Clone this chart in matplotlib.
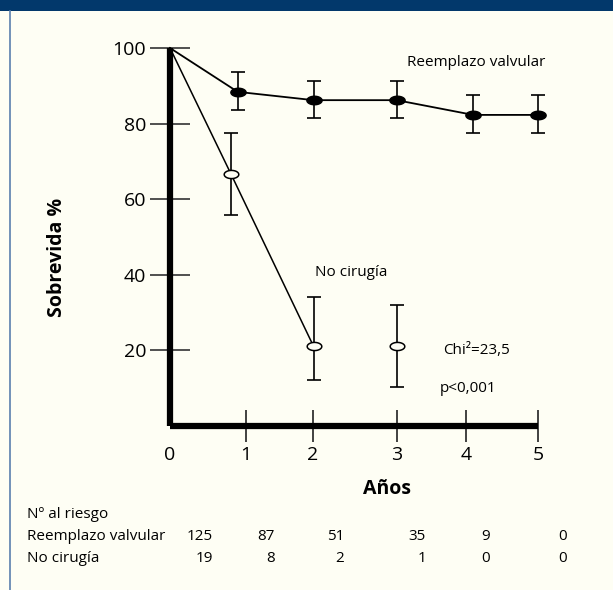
import numpy as np
import matplotlib
matplotlib.use("Agg")
import matplotlib.pyplot as plt
from matplotlib.path import Path
from matplotlib.patches import Rectangle
from matplotlib.lines import Line2D

# --- Datos ---
tick_years = [0, 1.03, 1.94, 3.08, 4.02, 5.0]   # posición de las marcas del eje X
tick_labels = ['0', '1', '2', '3', '4', '5']

# Reemplazo valvular (puntos llenos)
rv_x = [0, 0.92, 1.95, 3.08, 4.12, 5.0]
rv_y = [100, 88.4, 86.2, 86.2, 82.3, 82.3]
rv_lo = [100, 83.6, 81.4, 81.4, 77.5, 77.5]
rv_hi = [100, 93.7, 91.4, 91.4, 87.6, 87.6]

# No cirugía (puntos huecos)
nc_x = [0, 0.83, 1.95, 3.08]
nc_y = [100, 66.6, 21.1, 21.1]
nc_lo = [100, 55.9, 12.3, 10.3]
nc_hi = [100, 77.6, 34.0, 31.9]
nc_line_pts = 3   # la línea solo une los tres primeros puntos

riesgo_rv = ['125', '87', '51', '35', '9', '0']
riesgo_nc = ['19', '8', '2', '1', '0', '0']

BG = '#fefef4'
W, H = 613, 590

plt.rcParams['font.family'] = ['Open Sans', 'DejaVu Sans']

fig = plt.figure(figsize=(W / 100, H / 100), dpi=100, facecolor=BG)

# banda superior y borde izquierdo
fig.patches.append(Rectangle((0, 1 - 11 / H), 1, 11 / H, transform=fig.transFigure,
                             facecolor='#02386b', edgecolor='none', zorder=0))
fig.lines.append(Line2D([9.5 / W, 9.5 / W], [0, 1 - 11 / H], transform=fig.transFigure,
                        color='#5a7fae', lw=1.2))

ax = fig.add_axes([170 / W, (H - 426) / H, (538 - 170) / W, (426 - 48) / H])
ax.set_facecolor(BG)
ax.set_xlim(0, 5)
ax.set_ylim(0, 100)

for s in ['top', 'right']:
    ax.spines[s].set_visible(False)
for s in ['left', 'bottom']:
    ax.spines[s].set_linewidth(4.5)
    ax.spines[s].set_color('black')
    ax.spines[s].set_zorder(4)
    ax.spines[s].set_capstyle('butt')

ax.set_xticks(tick_years)
ax.set_xticklabels(tick_labels)
ax.set_yticks([20, 40, 60, 80, 100])
ax.tick_params(axis='y', direction='inout', length=28.5, width=1.2, color='#333333',
               labelsize=14, pad=3)
ax.tick_params(axis='x', direction='inout', length=23, width=1.2, color='#222222',
               labelsize=14, pad=3)
ax.xaxis.get_major_ticks()[0].tick1line.set_visible(False)

# marcador elíptico
t = np.linspace(0, 2 * np.pi, 60)
ellipse = Path(np.column_stack([np.cos(t), 0.56 * np.sin(t)]), closed=True)

rv_x, rv_y = np.array(rv_x), np.array(rv_y)
nc_x, nc_y = np.array(nc_x), np.array(nc_y)

ax.plot(rv_x, rv_y, color='black', lw=1.3, zorder=3, clip_on=False)
ax.plot(nc_x[:nc_line_pts], nc_y[:nc_line_pts], color='black', lw=1.1, zorder=3, clip_on=False)

ax.errorbar(rv_x[1:], rv_y[1:],
            yerr=[rv_y[1:] - np.array(rv_lo[1:]), np.array(rv_hi[1:]) - rv_y[1:]],
            fmt='none', ecolor='black', elinewidth=1.2, capsize=5, capthick=1.2,
            zorder=3, clip_on=False)
ax.errorbar(nc_x[1:], nc_y[1:],
            yerr=[nc_y[1:] - np.array(nc_lo[1:]), np.array(nc_hi[1:]) - nc_y[1:]],
            fmt='none', ecolor='black', elinewidth=1.2, capsize=5, capthick=1.2,
            zorder=3, clip_on=False)

ax.plot(rv_x[1:], rv_y[1:], ls='none', marker=ellipse, ms=11, mfc='black',
        mec='black', zorder=5, clip_on=False)
ax.plot(nc_x[1:], nc_y[1:], ls='none', marker=ellipse, ms=10.5, mfc=BG,
        mec='black', mew=1.1, zorder=5, clip_on=False)


def px(x, y):
    return x / W, 1 - y / H


# textos
fig.text(*px(476, 63), 'Reemplazo valvular', ha='center', va='center', fontsize=11)
fig.text(*px(351, 272), 'No cirugía', ha='center', va='center', fontsize=11)
fig.text(*px(443, 351), 'Chi²=23,5', ha='left', va='center', fontsize=11)
fig.text(*px(440, 389), 'p<0,001', ha='left', va='center', fontsize=11)

fig.text(*px(57, 257), 'Sobrevida %', rotation=90, ha='center', va='center',
         fontsize=14, fontweight='bold')
fig.text(*px(387, 489), 'Años', ha='center', va='center', fontsize=14, fontweight='bold')

# tabla de pacientes en riesgo
col_right = [213, 275, 344, 426, 490, 567]
fig.text(*px(27, 514), 'Nº al riesgo', ha='left', va='center', fontsize=11)
fig.text(*px(27, 537), 'Reemplazo valvular', ha='left', va='center', fontsize=11)
fig.text(*px(27, 559), 'No cirugía', ha='left', va='center', fontsize=11)
for xr, a, b in zip(col_right, riesgo_rv, riesgo_nc):
    fig.text(*px(xr, 537), a, ha='right', va='center', fontsize=11)
    fig.text(*px(xr, 559), b, ha='right', va='center', fontsize=11)

fig.savefig('out.png', dpi=100, facecolor=BG)
